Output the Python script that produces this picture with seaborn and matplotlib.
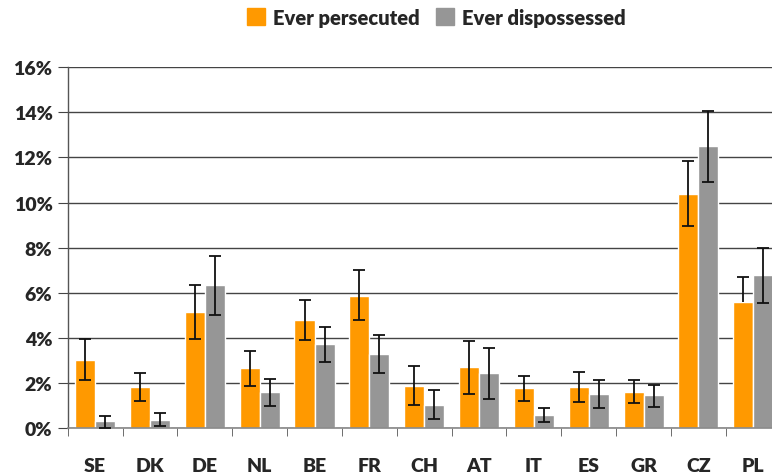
import matplotlib
matplotlib.use('Agg')
import matplotlib.pyplot as plt
import numpy as np
import pandas as pd
import seaborn as sns
from matplotlib.ticker import PercentFormatter

# Data (percent)
countries = ['SE', 'DK', 'DE', 'NL', 'BE', 'FR', 'CH', 'AT', 'IT', 'ES', 'GR', 'CZ', 'PL']
persecuted = [3.03, 1.83, 5.16, 2.67, 4.80, 5.86, 1.88, 2.72, 1.79, 1.83, 1.61, 10.38, 5.60]
pers_low = [2.14, 1.21, 3.97, 1.88, 3.93, 4.79, 1.05, 1.52, 1.21, 1.17, 1.12, 8.95, 5.60]
pers_high = [3.94, 2.45, 6.34, 3.41, 5.67, 7.02, 2.75, 3.88, 2.33, 2.50, 2.13, 11.86, 6.69]
dispossessed = [0.34, 0.38, 6.35, 1.61, 3.74, 3.29, 1.03, 2.45, 0.59, 1.52, 1.48, 12.51, 6.79]
disp_low = [0.00, 0.09, 5.04, 1.00, 2.95, 2.45, 0.40, 1.31, 0.30, 0.90, 0.96, 10.90, 5.55]
disp_high = [0.56, 0.66, 7.62, 2.19, 4.50, 4.14, 1.68, 3.57, 0.90, 2.13, 1.93, 14.08, 8.00]
series = ['Ever persecuted', 'Ever dispossessed']
colors = ['#FF9900', '#969696']

df = pd.DataFrame({
    'country': countries * 2,
    'series': [series[0]] * len(countries) + [series[1]] * len(countries),
    'value': persecuted + dispossessed,
})

sns.set_style('white')
plt.rcParams['font.family'] = ['Lato', 'DejaVu Sans']
FW = 'heavy'

fig = plt.figure(figsize=(7.72, 4.77), dpi=100)
ax = fig.add_axes([0.0877, 0.1, 0.9236, 0.757])

sns.barplot(data=df, x='country', y='value', hue='series', order=countries,
            hue_order=series, palette=colors, width=0.73, gap=0,
            errorbar=None, saturation=1, ax=ax, legend=False, zorder=2)

# error bars at the bar centres (a cap is only drawn where the whisker has length)
bounds = [(persecuted, pers_low, pers_high), (dispossessed, disp_low, disp_high)]
for k, (vals, lo, hi) in enumerate(bounds):
    bars = ax.patches[k * len(countries):(k + 1) * len(countries)]
    xs = np.array([b.get_x() + b.get_width() / 2 for b in bars])
    v, lo, hi = np.array(vals), np.array(lo), np.array(hi)
    ax.vlines(xs, lo, hi, color='#111111', linewidth=1.3, zorder=3)
    ax.plot(xs, hi, linestyle='none', marker='_', markersize=8, mew=1.3,
            color='#111111', zorder=3)
    m = lo < v
    ax.plot(xs[m], lo[m], linestyle='none', marker='_', markersize=8, mew=1.3,
            color='#111111', zorder=3)

ax.set_xlim(-0.5, len(countries) - 0.5)
ax.set_ylim(0, 16)
ax.set_yticks(np.arange(0, 17, 2))
ax.yaxis.set_major_formatter(PercentFormatter(decimals=0))
ax.grid(axis='y', color='#444444', linewidth=1, zorder=0)
ax.set_axisbelow(True)
ax.set_xlabel('')
ax.set_ylabel('')

for s in ['top', 'right']:
    ax.spines[s].set_visible(False)
ax.spines['left'].set_color('#555555')
ax.spines['bottom'].set_color('#888888')
ax.spines['left'].set_linewidth(1)
ax.spines['bottom'].set_linewidth(1.2)

# category ticks on x, boundary tick marks
ax.set_xticks(range(len(countries)))
ax.set_xticklabels(countries, fontsize=14, fontweight=FW)
ax.tick_params(axis='x', length=0, pad=21)
ax.set_xticks(np.arange(-0.5, len(countries), 1), minor=True)
ax.tick_params(axis='x', which='minor', length=6, color='#555555', direction='out', bottom=True)
ax.tick_params(axis='y', length=7, color='#444444', direction='out', left=True,
               labelsize=14, pad=4)
for t in ax.get_yticklabels():
    t.set_fontweight(FW)

handles = [plt.Rectangle((0, 0), 1, 1, color=c) for c in colors]
fig.legend(handles, series, loc='upper center', bbox_to_anchor=(0.565, 1.02), ncol=2,
           frameon=False, handlelength=0.9, handleheight=0.9, handletextpad=0.4,
           columnspacing=0.8, prop={'weight': FW, 'size': 14.5})

fig.savefig('out.png', dpi=100)
